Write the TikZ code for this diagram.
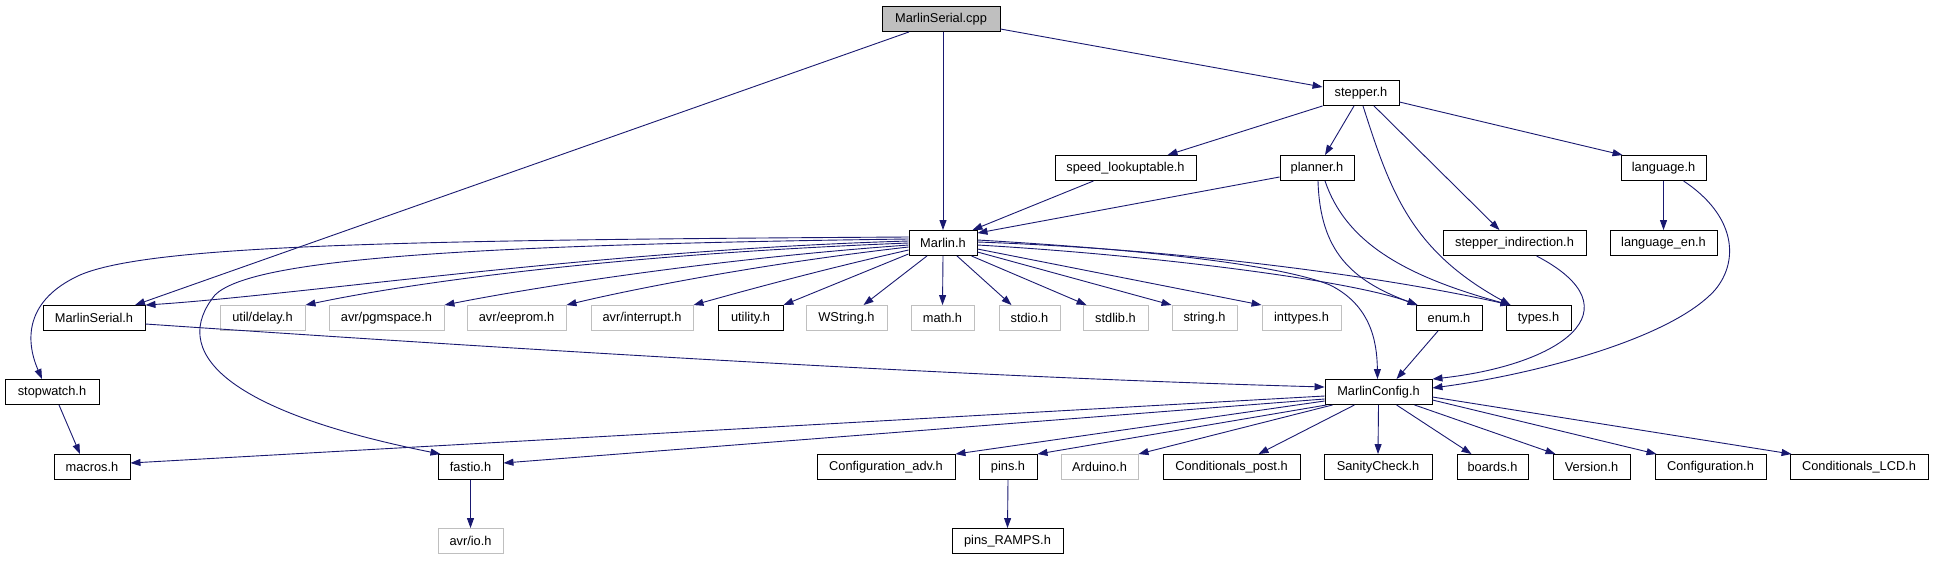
\documentclass[tikz,border=0pt]{standalone}
\usepackage{fontspec}
\setmainfont{Liberation Sans}
\usetikzlibrary{arrows.meta}
\definecolor{incl}{HTML}{191970}
\definecolor{sysgray}{HTML}{BFBFBF}

\begin{document}
\begin{tikzpicture}[x=1pt, y=-1pt,
	  file/.style={draw=black, fill=white, line width=0.9pt, inner sep=0pt, minimum height=25, font=\fontsize{12.8}{14}\selectfont},
	  sys/.style={file, draw=sysgray},
	  root/.style={file, fill=sysgray},
	  dep/.style={draw=incl, line width=0.9pt, -{Triangle[length=10pt,width=7pt]}},
	]
	\useasboundingbox (0,0) rectangle (1935,560);
	
	% Top
	\node[root, minimum width=118] (cpp) at (941,19) {MarlinSerial.cpp};
	\node[file, minimum width=76] (stepper) at (1361,93) {stepper.h};
	
	% Row below stepper.h
	\node[file, minimum width=141] (speed) at (1125.5,168) {speed\_lookuptable.h};
	\node[file, minimum width=74] (planner) at (1317,168) {planner.h};
	\node[file, minimum width=85] (lang) at (1663.5,168) {language.h};
	
	\node[file, minimum width=68] (marlin) at (943,243) {Marlin.h};
	\node[file, minimum width=143] (stepind) at (1514.5,243) {stepper\_indirection.h};
	\node[file, minimum width=107] (langen) at (1663.5,243) {language\_en.h};
	
	% Headers of Marlin.h
	\node[file, minimum width=102] (mserial) at (94,318) {MarlinSerial.h};
	\node[sys, minimum width=85] (delay) at (262.5,318) {util/delay.h};
	\node[sys, minimum width=115] (pgm) at (386.5,318) {avr/pgmspace.h};
	\node[sys, minimum width=99] (eeprom) at (516.5,318) {avr/eeprom.h};
	\node[sys, minimum width=102] (intr) at (642,318) {avr/interrupt.h};
	\node[file, minimum width=65] (utility) at (750.5,318) {utility.h};
	\node[sys, minimum width=81] (wstring) at (846.5,318) {WString.h};
	\node[sys, minimum width=63] (math) at (942.5,318) {math.h};
	\node[sys, minimum width=61] (stdio) at (1029.5,318) {stdio.h};
	\node[sys, minimum width=65] (stdlib) at (1115.5,318) {stdlib.h};
	\node[sys, minimum width=65] (string) at (1204.5,318) {string.h};
	\node[sys, minimum width=79] (inttypes) at (1301.5,318) {inttypes.h};
	\node[file, minimum width=66] (enum) at (1449,318) {enum.h};
	\node[file, minimum width=65] (types) at (1538.5,318) {types.h};
	
	\node[file, minimum width=94] (stopwatch) at (52,392) {stopwatch.h};
	\node[file, minimum width=107] (mconfig) at (1378.5,392) {MarlinConfig.h};
	
	% Headers of MarlinConfig.h
	\node[file, minimum width=76] (macros) at (92,467) {macros.h};
	\node[file, minimum width=65] (fastio) at (470.5,467) {fastio.h};
	\node[file, minimum width=138] (confadv) at (886,467) {Configuration\_adv.h};
	\node[file, minimum width=58] (pins) at (1008,467) {pins.h};
	\node[sys, minimum width=77] (arduino) at (1099.5,467) {Arduino.h};
	\node[file, minimum width=137] (condpost) at (1231.5,467) {Conditionals\_post.h};
	\node[file, minimum width=108] (sanity) at (1378,467) {SanityCheck.h};
	\node[file, minimum width=71] (boards) at (1492.5,467) {boards.h};
	\node[file, minimum width=77] (version) at (1591.5,467) {Version.h};
	\node[file, minimum width=111] (config) at (1710.5,467) {Configuration.h};
	\node[file, minimum width=138] (condlcd) at (1859,467) {Conditionals\_LCD.h};
	
	\node[sys, minimum width=65] (avrio) at (470.5,541) {avr/io.h};
	\node[file, minimum width=111] (ramps) at (1007.5,541) {pins\_RAMPS.h};
	
	% Includes of MarlinSerial.cpp
	\draw[dep] ([xshift=-32]cpp.south) -- ([xshift=41]mserial.north);
	\draw[dep] ([xshift=2]cpp.south) -- (marlin.north);
	\draw[dep] ([yshift=-10]cpp.east) -- ([yshift=6]stepper.west);
	
	% Includes of stepper.h
	\draw[dep] (stepper.south west) -- ([xshift=42]speed.north);
	\draw[dep] ([xshift=-7]stepper.south) -- ([xshift=8]planner.north);
	\draw[dep] ([xshift=2]stepper.south) .. controls (1390,190) and (1410,250) .. ([xshift=-28]types.north);
	\draw[dep] ([xshift=13]stepper.south) -- ([xshift=-15]stepind.north);
	\draw[dep] ([yshift=-9]stepper.east) -- ([xshift=2]lang.north west);
	
	\draw[dep] ([xshift=-32]speed.south) -- ([xshift=-5]marlin.north east);
	\draw[dep] ([yshift=-9]planner.west) -- ([yshift=-3]marlin.north east);
	\draw[dep] ([xshift=1]planner.south) .. controls (1320,250) and (1350,280) .. ([xshift=2]enum.north west);
	\draw[dep] ([xshift=8]planner.south) .. controls (1345,240) and (1400,275) .. ([xshift=-28]types.north);
	
	\draw[dep] (lang.south) -- (langen.north);
	\draw[dep] ([xshift=20]lang.south) .. controls (1735,215) and (1740,260) .. (1715,290)
	  .. controls (1670,340) and (1530,375) .. ([yshift=4]mconfig.east);
	\draw[dep] ([xshift=22]stepind.south) .. controls (1640,310) and (1560,365) .. (mconfig.north east);
	
	% Includes of Marlin.h
	\draw[dep] ([yshift=6]marlin.west) .. controls (400,240) and (150,245) .. (80,275)
	  .. controls (25,300) and (25,340) .. ([xshift=-10]stopwatch.north);
	\draw[dep] ([yshift=4]marlin.west) .. controls (450,245) and (250,260) .. (215,295)
	  .. controls (170,350) and (220,410) .. ([xshift=-30]fastio.north);
	\draw[dep] ([yshift=2]marlin.west) .. controls (600,250) and (300,295) .. (mserial.north east);
	\draw[dep] (marlin.west) .. controls (600,255) and (400,285) .. (delay.north east);
	\draw[dep] ([yshift=-2]marlin.west) .. controls (700,260) and (520,290) .. (pgm.north east);
	\draw[dep] ([yshift=-4]marlin.west) .. controls (750,265) and (620,292) .. (eeprom.north east);
	\draw[dep] ([yshift=-7]marlin.west) .. controls (820,270) and (740,292) .. (intr.north east);
	\draw[dep] ([yshift=2]marlin.south west) -- (utility.north east);
	\draw[dep] ([xshift=-16]marlin.south) -- ([xshift=17]wstring.north);
	\draw[dep] (marlin.south) -- (math.north);
	\draw[dep] ([xshift=14]marlin.south) -- ([xshift=-18]stdio.north);
	\draw[dep] ([xshift=-6]marlin.south east) -- ([xshift=4]stdlib.north west);
	\draw[dep] ([yshift=-9]marlin.east) -- (string.north west);
	\draw[dep] ([yshift=-6]marlin.east) -- (inttypes.north west);
	\draw[dep] ([yshift=-2]marlin.east) .. controls (1150,255) and (1350,280) .. ([xshift=2]enum.north west);
	\draw[dep] ([yshift=1]marlin.east) .. controls (1200,250) and (1400,280) .. ([xshift=-28]types.north);
	\draw[dep] ([yshift=3]marlin.east) .. controls (1150,250) and (1280,265) .. (1330,285)
	  .. controls (1370,305) and (1377,340) .. ([xshift=-1]mconfig.north);
	
	\draw[dep] ([yshift=-6]mserial.east) .. controls (600,355) and (1000,378) .. ([yshift=5]mconfig.west);
	\draw[dep] ([xshift=-11]enum.south) -- ([xshift=18]mconfig.north);
	\draw[dep] ([xshift=7]stopwatch.south) -- ([xshift=-12]macros.north);
	
	% Includes of MarlinConfig.h
	\draw[dep] ([yshift=-4]mconfig.west) -- ([yshift=4]macros.east);
	\draw[dep] ([yshift=-7]mconfig.west) -- ([yshift=4]fastio.east);
	\draw[dep] ([yshift=-9]mconfig.west) -- (confadv.north east);
	\draw[dep] ([xshift=2]mconfig.south west) -- (pins.north east);
	\draw[dep] ([xshift=8]mconfig.south west) -- (arduino.north east);
	\draw[dep] ([xshift=-24]mconfig.south) -- ([xshift=27]condpost.north);
	\draw[dep] (mconfig.south) -- (sanity.north);
	\draw[dep] ([xshift=18]mconfig.south) -- ([xshift=-21]boards.north);
	\draw[dep] ([xshift=36]mconfig.south) -- ([xshift=-36]version.north);
	\draw[dep] ([yshift=-8]mconfig.east) -- ([xshift=2]config.north west);
	\draw[dep] ([yshift=-5]mconfig.east) -- ([xshift=2]condlcd.north west);
	
	\draw[dep] (fastio.south) -- (avrio.north);
	\draw[dep] (pins.south) -- (ramps.north);
	
\end{tikzpicture}
\end{document}
